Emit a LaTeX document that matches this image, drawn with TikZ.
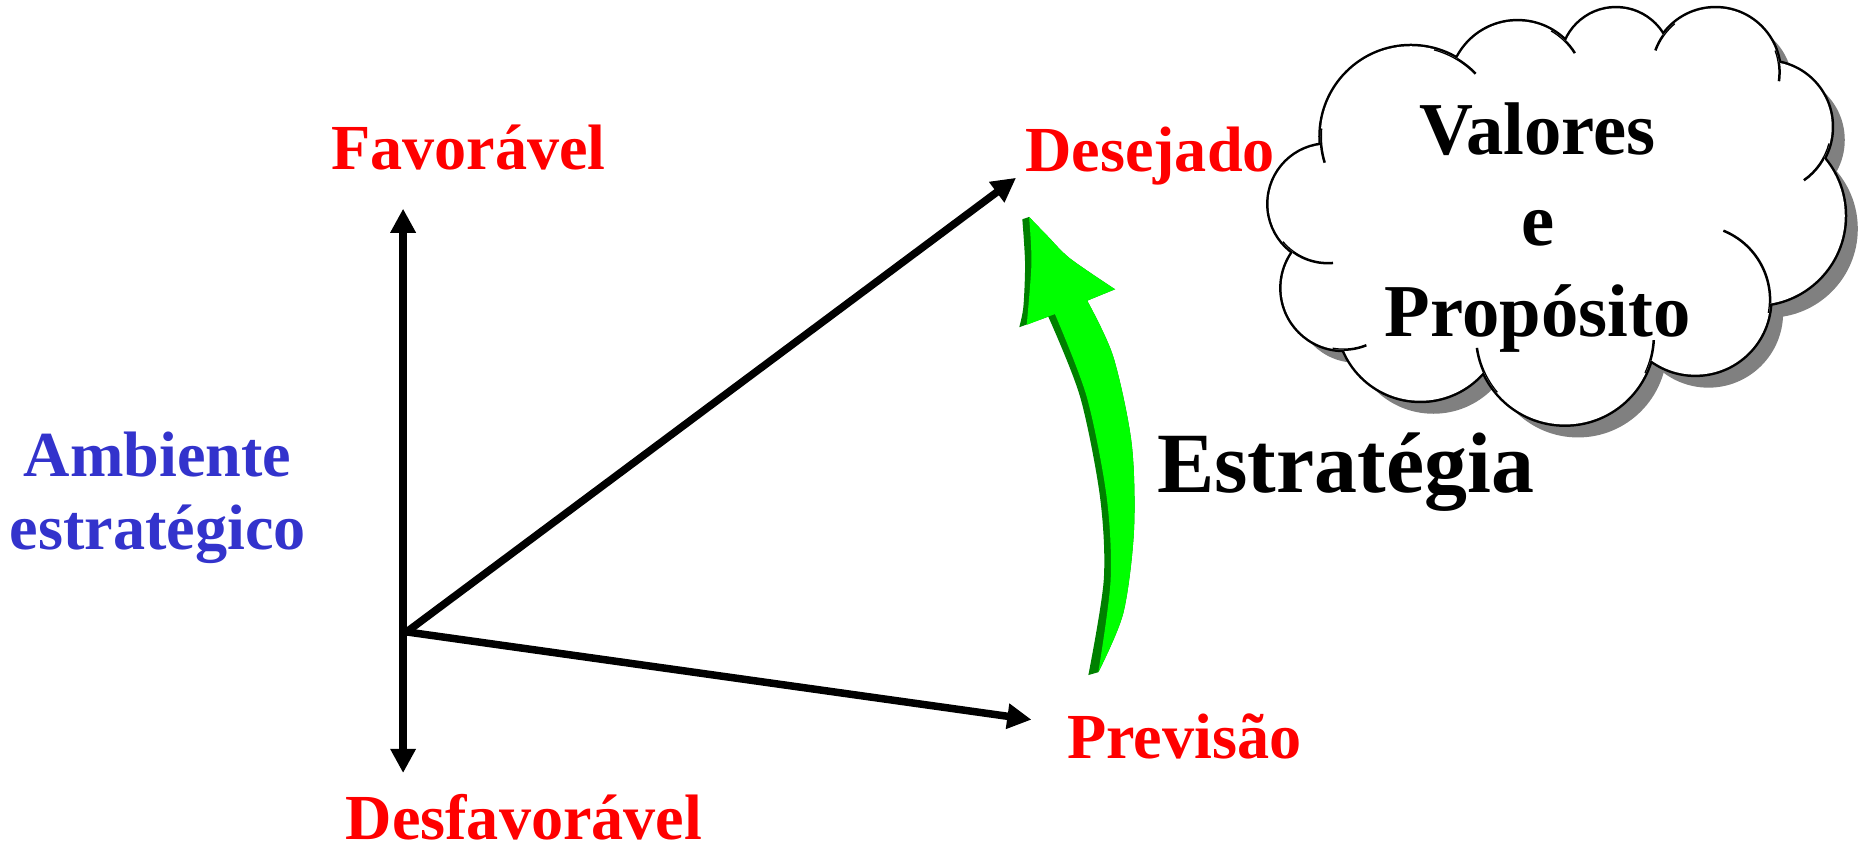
\documentclass[tikz,border=0pt]{standalone}
\usepackage{fontspec}
\setmainfont{Liberation Serif}
\usepackage{tikz}
\usetikzlibrary{arrows.meta}
\definecolor{vermelho}{RGB}{255,0,0}
\definecolor{azul}{RGB}{51,51,204}
\definecolor{verde}{RGB}{0,255,0}
\definecolor{verdeescuro}{RGB}{0,128,0}
\definecolor{sombra}{RGB}{128,128,128}

\begin{document}
\begin{tikzpicture}[x=0.01cm,y=-0.01cm,
	rotulo/.style={text=vermelho,font=\fontsize{15.4}{18}\selectfont\bfseries,inner sep=0pt,anchor=base},
	seta/.style={line width=1.8pt,-{Triangle[length=5.8pt,width=5.8pt]}},
	bolha/.style={line width=0.6pt}]
	\useasboundingbox (0,0) rectangle (1568,716);
	\def\bolhas{1120/172/50,1190/115/76,1280/75/57,1363/53/46,1447/61/54,1490/107/55,1481/182/75,1430/253/63,1320/283/75,1198/268/70,1133/243/52}

	\begin{scope}[shift={(11,11)}]
		\foreach \cx/\cy/\rad in \bolhas \fill[sombra] (\cx,\cy) circle[radius=\rad];
		\fill[sombra] (1310,185) ellipse[x radius=170,y radius=120];
	\end{scope}
	\foreach \cx/\cy/\rad in \bolhas \draw[line width=1.2pt] (\cx,\cy) circle[radius=\rad];
	\foreach \cx/\cy/\rad in \bolhas \fill[white] (\cx,\cy) circle[radius=\rad];
	\fill[white] (1310,185) ellipse[x radius=170,y radius=120];
	\begin{scope}
		\clip foreach \cx/\cy/\rad in \bolhas {(\cx,\cy) circle[radius=\rad]};
		\foreach \cx/\cy/\rad/\ai/\af in {1190/115/76/163/185, 1190/115/76/-75/-44, 1280/75/57/-60/-32,
			1447/61/54/200/230, 1447/61/54/-20/8, 1490/107/55/15/55, 1430/253/63/-68/10,
			1320/283/75/3/25, 1320/283/75/140/172, 1133/243/52/68/100, 1120/172/50/85/140}
			\draw[bolha] (\cx,\cy) ++(\ai:\rad) arc[start angle=\ai,end angle=\af,radius=\rad];
	\end{scope}
	\node[font=\fontsize{17.9}{21.8}\selectfont\bfseries,align=center,inner sep=0pt] (valores) at (1297,192) {Valores\\e\\Propósito};

	\fill[verdeescuro] plot[smooth] coordinates {(868,183) (883,198.5) (902.5,218) (940.5,244)}
		-- (917,253.6)
		-- plot[smooth] coordinates {(917,253.6) (939,300.8) (954.5,374) (956.5,447) (947.5,517) (926.4,567)}
		-- (918,569.4)
		-- plot[smooth] coordinates {(918,569.4) (931,489) (927.8,419) (911,334.6) (884.2,267.1)}
		-- (859.7,276)
		-- plot[smooth] coordinates {(859.7,276) (863.2,258.6) (864.6,222) (862.3,185)}
		-- cycle;
	\fill[verde] plot[smooth] coordinates {(868,183) (883,198.5) (902.5,218) (940.5,244)}
		-- (917,253.6)
		-- plot[smooth] coordinates {(917,253.6) (939,300.8) (954.5,374) (956.5,447) (947.5,517) (926.4,567)}
		-- plot[smooth] coordinates {(926.4,567) (936.8,489) (933.4,419) (916.6,334.6) (889.8,264.9)}
		-- (866,274)
		-- plot[smooth] coordinates {(866,274) (870,222) (868,183)}
		-- cycle;

	\node[rotulo] (fav) at (395,143) {Favorável};
	\node[rotulo] (desf) at (442,708) {Desfavorável};
	\node[rotulo] (des) at (970,145) {Desejado};
	\node[rotulo] (prev) at (999,640) {Previsão};
	\node[text=azul,font=\fontsize{15.4}{17.6}\selectfont\bfseries,align=center,inner sep=0pt] (amb) at (133,420) {Ambiente\\estratégico};
	\node[font=\fontsize{20.6}{24}\selectfont\bfseries,inner sep=0pt,anchor=base] (estr) at (1135,415) {Estratégia};

	\coordinate (topo) at (340,176);
	\coordinate (fundo) at (340,652);
	\coordinate (origem) at (343,533);
	\coordinate (pdes) at (857,150);
	\coordinate (pprev) at (870,607);
	\draw[seta,{Triangle[length=5.8pt,width=5.8pt]}-{Triangle[length=5.8pt,width=5.8pt]}] (fundo) -- (topo);
	\draw[seta] (origem) -- (pdes);
	\draw[seta] (origem) -- (pprev);
\end{tikzpicture}
\end{document}
